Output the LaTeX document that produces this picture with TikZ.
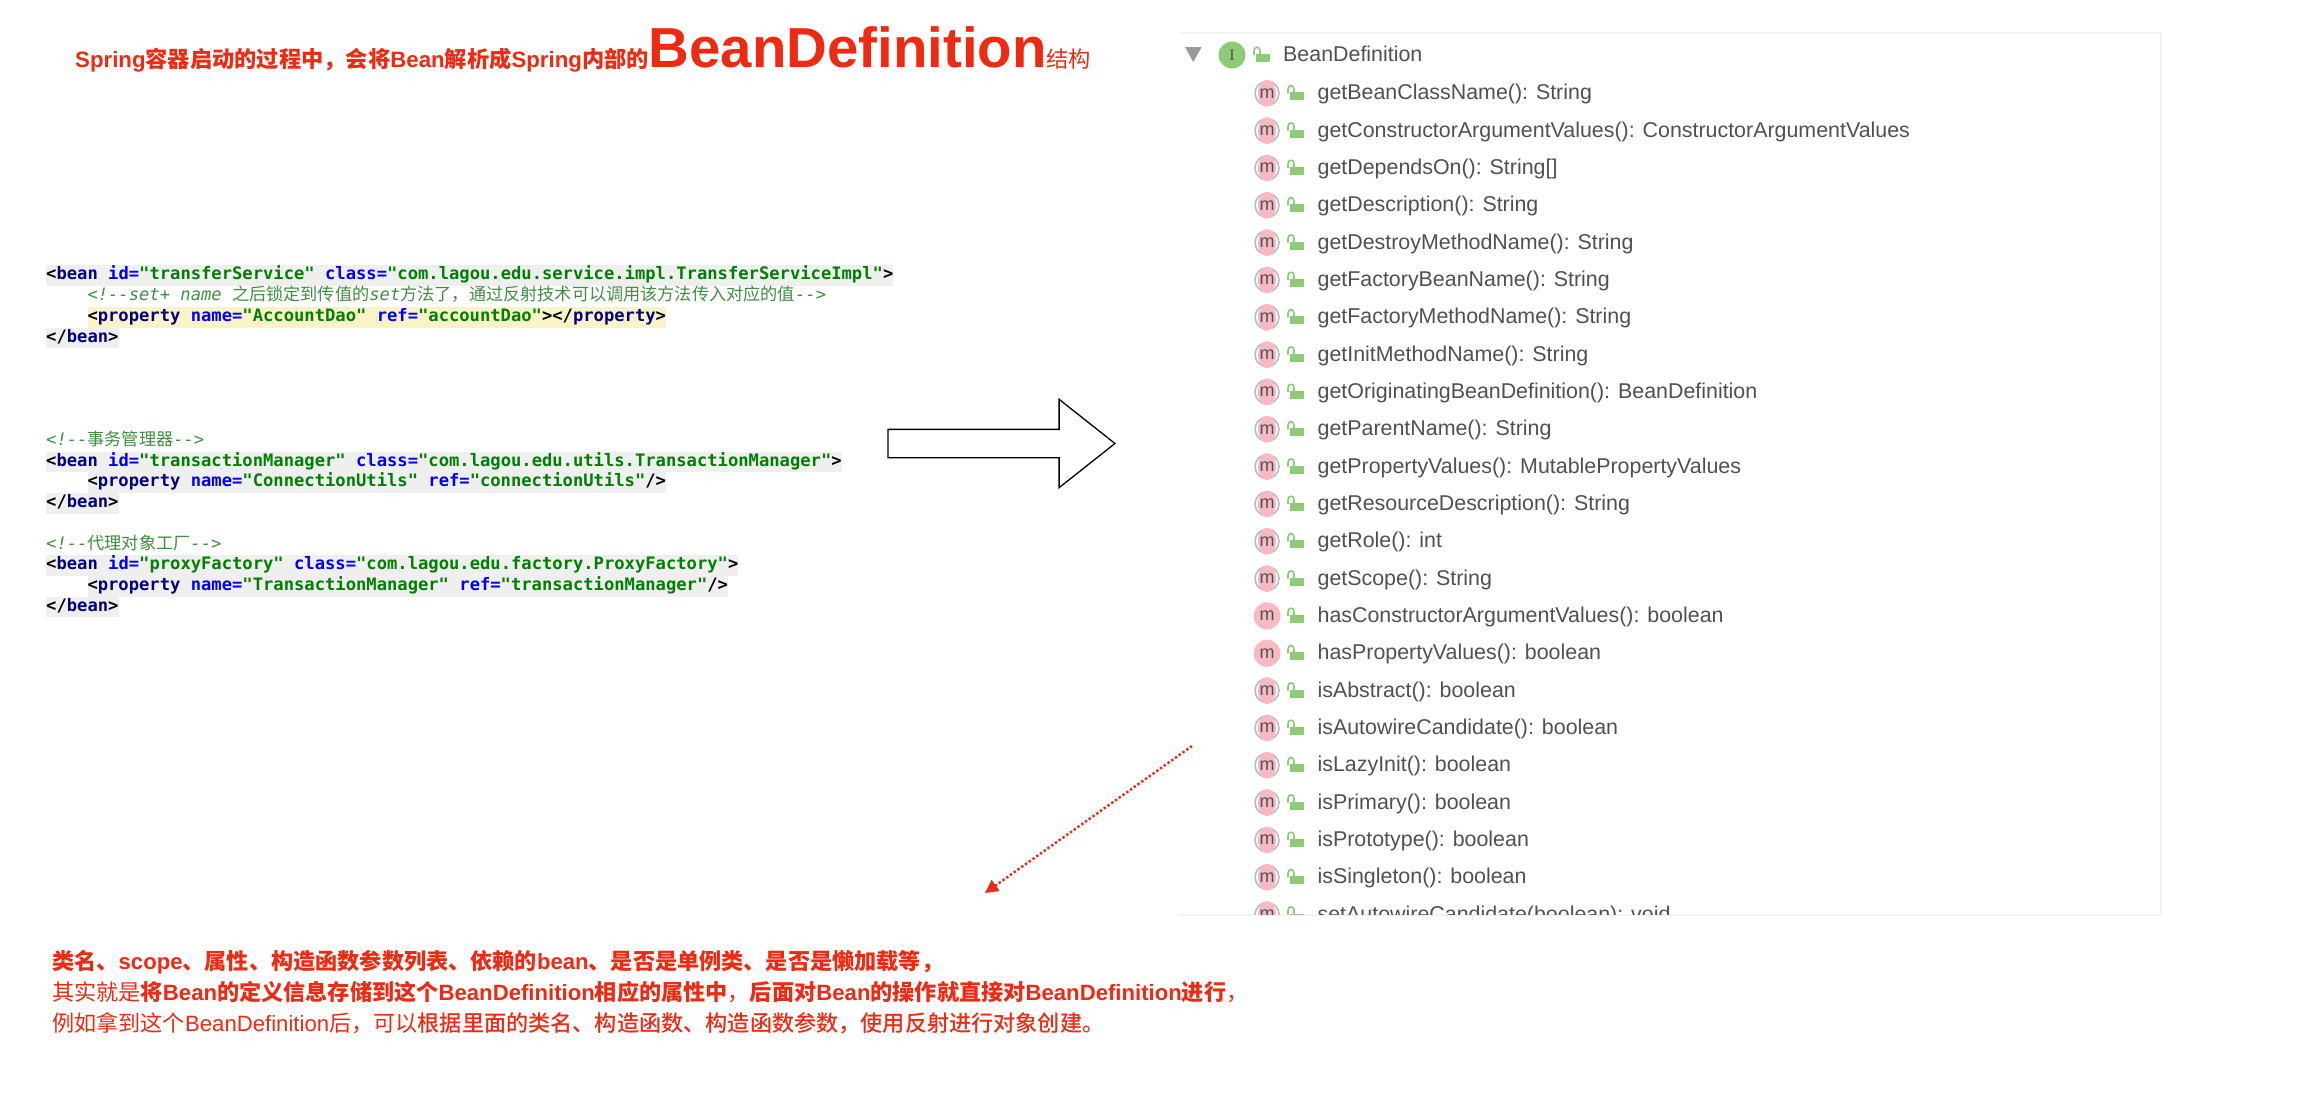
\documentclass[tikz,border=0pt]{standalone}
\usepackage{fontspec}
\usepackage{xcolor}
\setmainfont{Liberation Sans}
\setmonofont{DejaVu Sans Mono}
\newfontfamily\cjk{Noto Sans CJK SC}
\newfontfamily\cjkmid{Noto Sans CJK SC Medium}
\newfontfamily\ifaceletter{Liberation Serif}
\usetikzlibrary{positioning,arrows.meta,shapes}

\definecolor{notered}{HTML}{EE2A12}
\definecolor{tagnavy}{HTML}{000080}
\definecolor{attrblue}{HTML}{0000FF}
\definecolor{valgreen}{HTML}{008000}
\definecolor{commentgreen}{HTML}{3F8F3F}
\definecolor{taggrey}{HTML}{EFEFEF}
\definecolor{propyellow}{HTML}{FBF3C8}
\definecolor{methodpink}{HTML}{F8B9C3}
\definecolor{ringgrey}{HTML}{B4BCC0}
\definecolor{lockgreen}{HTML}{8CCB78}
\definecolor{methodgrey}{HTML}{505050}
\definecolor{panelline}{HTML}{F2F2F2}

\newcommand{\cn}[1]{{\cjk #1}}
\newcommand{\xtag}[1]{\textcolor{tagnavy}{#1}}
\newcommand{\xattr}[1]{\textcolor{attrblue}{#1}}
\newcommand{\xval}[1]{\textcolor{valgreen}{#1}}

% #1 icon style, #2 previous row, #3 this row, #4 text
\newcommand{\methodrow}[4][mring]{
    \node[below=of #2.west, method] (#3) {#4};
    \node[#1, left=50.4pt of #3.west, anchor=center] (#3r) {};
    \node[mball, left=50.4pt of #3.west, anchor=center] (#3i) {m};
    \pic at ([xshift=-29.4pt]#3.west) {lockicon};
}

\tikzset{
    lockicon/.pic={
        \fill[lockgreen] (2,-1) rectangle (15.5,7);
        \draw[lockgreen, line width=1.6pt] (0,0) -- (0,-4) .. controls (0,-9) and (6,-9) .. (6,-4) -- (6,-1);
    }
}

\begin{document}
\begin{tikzpicture}[
    x = 1pt,
    y = -1pt,
    on grid,
    node distance = 37.33pt,
    note/.style={text=notered, inner sep=0pt, anchor=base west, font=\fontsize{22.15}{26}\selectfont},
    code/.style={inner sep=0pt, anchor=west, text height=14.5pt, text depth=6.2pt,
        font=\ttfamily\bfseries\fontsize{17.16}{20}\selectfont},
    comment/.style={code, text=commentgreen, font=\ttfamily\itshape\fontsize{17.16}{20}\selectfont},
    method/.style={anchor=west, inner sep=0pt, text=methodgrey, text height=18pt, text depth=5pt,
        font=\fontsize{21.4}{26}\selectfont},
    mring/.style={circle, draw=ringgrey, line width=1.6pt, fill=white, minimum size=24pt, inner sep=0pt},
    mfull/.style={circle, fill=methodpink, minimum size=27pt, inner sep=0pt},
    mball/.style={ellipse, fill=methodpink, minimum width=18pt, minimum height=27pt, inner xsep=-3pt, inner ysep=0pt,
        text=methodgrey, font=\fontsize{18}{20}\selectfont},
    bigarrow/.style={single arrow, draw=black, line width=1.3pt, fill=white, inner xsep=0pt, inner ysep=13.5pt,
        minimum height=227pt, minimum width=87pt, single arrow head extend=30pt, single arrow tip angle=76.7},
    dotarrow/.style={notered, line width=2.4pt, dash pattern=on 2.4pt off 2.2pt, -{Triangle[length=13pt,width=13pt]}}
]
    \useasboundingbox (0,0) rectangle (2311,1103);

    % title
    \node[note, font=\bfseries\fontsize{22.25}{26}\selectfont] (title) at (75,67.5) {Spring\cn{容器启动的过程中，会将}Bean\cn{解析成}Spring\cn{内部的}{\fontsize{56.4}{60}\selectfont BeanDefinition}{\mdseries\cn{结构}}};

    % xml on the left
    \node[code, fill=taggrey] (c1) at (46,275.5) {<\xtag{bean} \xattr{id=}\xval{"transferService"} \xattr{class=}\xval{"com.lagou.edu.service.impl.TransferServiceImpl"}>};
    \node[comment] (c2) at (87.3,296.5) {<!--set+ name \cn{之后锁定到传值的}set\cn{方法了，通过反射技术可以调用该方法传入对应的值}-->};
    \node[code, fill=propyellow] (c3) at (87.3,317.2) {<\xtag{property} \xattr{name=}\xval{"AccountDao"} \xattr{ref=}\xval{"accountDao"}></\xtag{property}>};
    \node[code, fill=taggrey] (c4) at (46,337.9) {</\xtag{bean}>};

    \node[comment] (c5) at (46,441.5) {<!--\cn{事务管理器}-->};
    \node[code, fill=taggrey] (c6) at (46,462) {<\xtag{bean} \xattr{id=}\xval{"transactionManager"} \xattr{class=}\xval{"com.lagou.edu.utils.TransactionManager"}>};
    \node[code, fill=taggrey] (c7) at (87.3,482.7) {<\xtag{property} \xattr{name=}\xval{"ConnectionUtils"} \xattr{ref=}\xval{"connectionUtils"}/>};
    \node[code, fill=taggrey] (c8) at (46,503.4) {</\xtag{bean}>};

    \node[comment] (c9) at (46,545) {<!--\cn{代理对象工厂}-->};
    \node[code, fill=taggrey] (c10) at (46,565.5) {<\xtag{bean} \xattr{id=}\xval{"proxyFactory"} \xattr{class=}\xval{"com.lagou.edu.factory.ProxyFactory"}>};
    \node[code, fill=taggrey] (c11) at (87.3,586.2) {<\xtag{property} \xattr{name=}\xval{"TransactionManager"} \xattr{ref=}\xval{"transactionManager"}/>};
    \node[code, fill=taggrey] (c12) at (46,606.9) {</\xtag{bean}>};

    \node[bigarrow] (toright) at (992.5,443.5) {};

    % method panel
    \draw[panelline, line width=2.5pt] (1179,33) -- (2161,33);
    \draw[panelline, line width=1.5pt] (1179,915) -- (2161,915);
    \draw[panelline, line width=1.5pt] (2161,33) -- (2161,915);
    \fill[black!40] (1185,47) -- (1201.6,47) -- (1193.3,62) -- cycle;
    \node[circle, fill=lockgreen, minimum size=27pt, inner sep=0pt, text=methodgrey, font=\ifaceletter\fontsize{16}{18}\selectfont] (ifacei) at (1232,55) {I};
    \pic at (1254,55) {lockicon};
    \node[method] (m0) at (1283,55) {BeanDefinition};

    \begin{scope}
    \clip (1170,33) rectangle (2170,914);
    \node[method] (m1) at (1317.4,93.3) {getBeanClassName(): String};
    \node[mring, left=50.4pt of m1.west, anchor=center] (m1r) {};
    \node[mball, left=50.4pt of m1.west, anchor=center] (m1i) {m};
    \pic at ([xshift=-29.4pt]m1.west) {lockicon};
    \methodrow{m1}{m2}{getConstructorArgumentValues(): ConstructorArgumentValues}
    \methodrow{m2}{m3}{getDependsOn(): String[]}
    \methodrow{m3}{m4}{getDescription(): String}
    \methodrow{m4}{m5}{getDestroyMethodName(): String}
    \methodrow{m5}{m6}{getFactoryBeanName(): String}
    \methodrow{m6}{m7}{getFactoryMethodName(): String}
    \methodrow{m7}{m8}{getInitMethodName(): String}
    \methodrow{m8}{m9}{getOriginatingBeanDefinition(): BeanDefinition}
    \methodrow{m9}{m10}{getParentName(): String}
    \methodrow{m10}{m11}{getPropertyValues(): MutablePropertyValues}
    \methodrow{m11}{m12}{getResourceDescription(): String}
    \methodrow{m12}{m13}{getRole(): int}
    \methodrow{m13}{m14}{getScope(): String}
    \methodrow[mfull]{m14}{m15}{hasConstructorArgumentValues(): boolean}
    \methodrow[mfull]{m15}{m16}{hasPropertyValues(): boolean}
    \methodrow{m16}{m17}{isAbstract(): boolean}
    \methodrow{m17}{m18}{isAutowireCandidate(): boolean}
    \methodrow{m18}{m19}{isLazyInit(): boolean}
    \methodrow{m19}{m20}{isPrimary(): boolean}
    \methodrow{m20}{m21}{isPrototype(): boolean}
    \methodrow{m21}{m22}{isSingleton(): boolean}
    \methodrow{m22}{m23}{setAutowireCandidate(boolean): void}
    \end{scope}

    \coordinate (dotfrom) at (1192,746);
    \coordinate (dotto) at (985,893);
    \draw[dotarrow] (dotfrom) -- (dotto);

    % notes at the bottom
    \node[note] (n1) at (52,969.5) {\bfseries\cn{类名、}scope\cn{、属性、构造函数参数列表、依赖的}bean\cn{、是否是单例类、是否是懒加载等，}};
    \node[note] (n2) at (52,1000.5) {\cn{其实就是}\textbf{\cn{将}Bean\cn{的定义信息存储到这个}BeanDefinition\cn{相应的属性中}}\cn{，}\textbf{\cn{后面对}Bean\cn{的操作就直接对}BeanDefinition\cn{进行}}\cn{，}};
    \node[note] (n3) at (52,1031.5) {\cn{例如拿到这个}BeanDefinition\cn{后，可以}{\cjkmid 根据里面的类名、构造函数、构造函数参数，使用反射进行对象创建。}};
\end{tikzpicture}
\end{document}
